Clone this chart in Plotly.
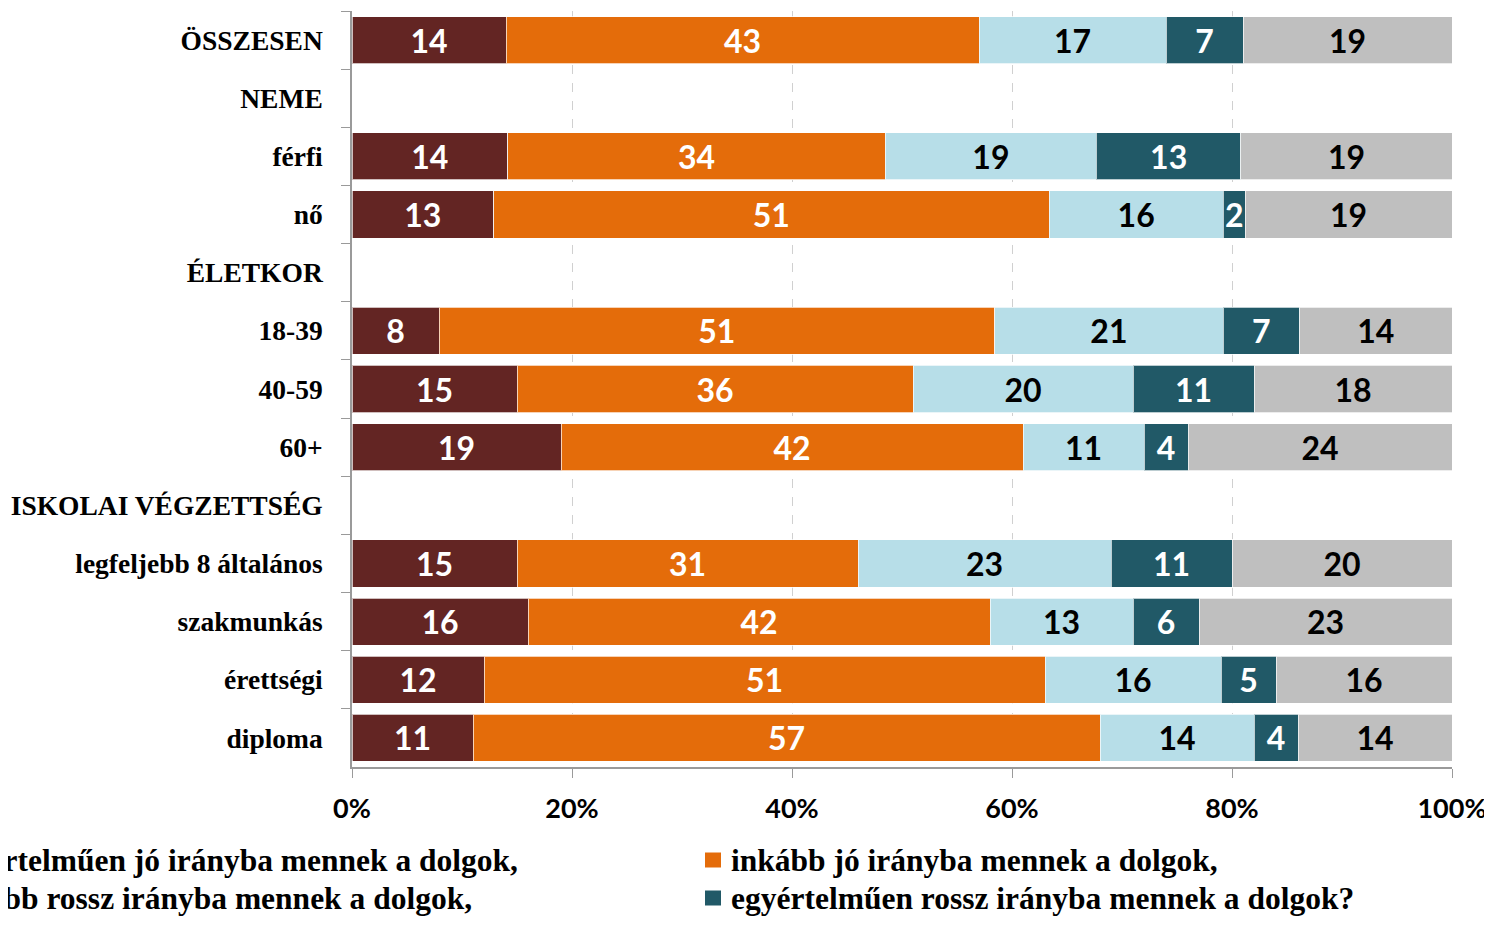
import plotly.graph_objects as go

categories = ["ÖSSZESEN", "NEME", "férfi", "nő", "ÉLETKOR", "18-39", "40-59", "60+",
              "ISKOLAI VÉGZETTSÉG", "legfeljebb 8 általános", "szakmunkás", "érettségi", "diploma"]

series_names = ["egyértelműen jó irányba mennek a dolgok,",
                "inkább jó irányba mennek a dolgok,",
                "inkább rossz irányba mennek a dolgok,",
                "egyértelműen rossz irányba mennek a dolgok?",
                "nem tudja"]

clearly_good = [14, None, 14, 13, None, 8, 15, 19, None, 15, 16, 12, 11]
rather_good = [43, None, 34, 51, None, 51, 36, 42, None, 31, 42, 51, 57]
rather_bad = [17, None, 19, 16, None, 21, 20, 11, None, 23, 13, 16, 14]
clearly_bad = [7, None, 13, 2, None, 7, 11, 4, None, 11, 6, 5, 4]
dont_know = [19, None, 19, 19, None, 14, 18, 24, None, 20, 23, 16, 14]

x_ticks = [0, 20, 40, 60, 80, 100]
x_tick_labels = ["0%", "20%", "40%", "60%", "80%", "100%"]

colors = ["#632523", "#E46C0A", "#B7DEE8", "#215967", "#BFBFBF"]
text_colors = ["white", "white", "black", "white", "black"]

serif = "Liberation Serif"
sans = "Lato"

fig = go.Figure()
all_values = [clearly_good, rather_good, rather_bad, clearly_bad, dont_know]
for name, vals, col, tcol in zip(series_names, all_values, colors, text_colors):
    fig.add_trace(go.Bar(
        y=categories, x=vals, name=name, orientation="h",
        marker=dict(color=col, line=dict(color="rgba(255,255,255,0.7)", width=1)),
        text=[("" if v is None else str(v)) for v in vals],
        textposition="inside", insidetextanchor="middle", textangle=0,
        constraintext="none",
        textfont=dict(family=sans, size=32, color=tcol, weight="bold"),
        showlegend=False, hoverinfo="skip",
    ))

# page has an 8px body margin, so margins are shifted by that
fig.update_layout(
    barmode="stack", barnorm="percent", bargap=0.19,
    width=1492, height=948,
    margin=dict(l=344, r=48, t=3, b=189),
    plot_bgcolor="white", paper_bgcolor="white",
    showlegend=False,
)

fig.update_yaxes(
    type="category", categoryorder="array", categoryarray=categories,
    autorange="reversed", automargin=False,
    showline=True, linecolor="#9a9a9a", linewidth=1.5,
    ticks="outside", tickson="boundaries", ticklen=9, tickcolor="#9a9a9a",
    ticklabelstandoff=22,
    tickfont=dict(family=serif, size=27.5, color="black", weight="bold"),
    showgrid=False,
)

fig.update_xaxes(
    range=[0, 100], tickvals=x_ticks, ticktext=x_tick_labels,
    automargin=False,
    showline=True, linecolor="#9a9a9a", linewidth=1.5,
    ticks="outside", ticklen=9, tickcolor="#9a9a9a",
    ticklabelstandoff=8,
    showgrid=True, gridcolor="#d0d0d0", griddash="dash", gridwidth=1,
    zeroline=False,
    tickfont=dict(family=sans, size=27, color="black", weight="bold"),
)

# legend drawn by hand: the left column runs off the page edge as in the source
legend_font = dict(family=serif, size=31.5, color="black", weight="bold")
plot_w = 1100.0
plot_h = 756.0
legend_cols = [-58, 729]
legend_rows = [860, 898]
for i, name in enumerate(series_names[:4]):
    col = i % 2
    row = i // 2
    px = legend_cols[col]
    py = legend_rows[row]
    xp = (px - 352) / plot_w
    yp = 1 - (py - 11) / plot_h
    fig.add_annotation(x=xp, y=yp, xref="paper", yref="paper", text=name,
                       showarrow=False, xanchor="left", yanchor="middle",
                       font=legend_font)
    fig.add_shape(type="rect", xref="paper", yref="paper",
                  x0=(px - 24 - 352) / plot_w, x1=(px - 8 - 352) / plot_w,
                  y0=yp - 7.5 / plot_h, y1=yp + 7.5 / plot_h,
                  fillcolor=colors[i], line=dict(width=0))

fig.write_html("out.html")
